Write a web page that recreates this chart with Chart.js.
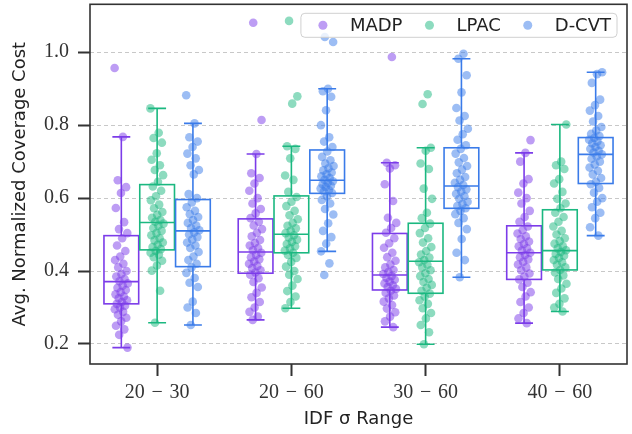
<!DOCTYPE html>
<html>
<head>
<meta charset="utf-8">
<script src="https://cdn.jsdelivr.net/npm/chart.js@4/dist/chart.umd.min.js"></script>
<style>
  html, body { margin: 0; padding: 0; background: #fff; }
</style>
</head>
<body>
<canvas id="chart" width="632" height="434"></canvas>
<script>
const ranges = ['20\u2004\u2212\u200430', '20\u2004\u2212\u200460', '30\u2004\u2212\u200460', '40\u2004\u2212\u200460'];
const methods = ['MADP', 'LPAC', 'D-CVT'];
const colors = ['#7c3ce9', '#1bb880', '#3a7be9'];
const yTicks = [0.2, 0.4, 0.6, 0.8, 1.0];

// per-run normalized costs, one inner array per sigma range
const madpCost = [
    [0.957, 0.768, 0.649, 0.630, 0.614, 0.573, 0.534, 0.515, 0.504, 0.49, 0.47, 0.455, 0.44, 0.43, 0.42, 0.41, 0.40, 0.392, 0.385, 0.378, 0.372, 0.366, 0.36, 0.354, 0.348, 0.342, 0.336, 0.33, 0.325, 0.32, 0.315, 0.31, 0.305, 0.30, 0.295, 0.288, 0.28, 0.272, 0.262, 0.25, 0.24, 0.225, 0.19],
    [1.081, 0.814, 0.721, 0.668, 0.655, 0.64, 0.62, 0.60, 0.585, 0.57, 0.558, 0.545, 0.535, 0.525, 0.515, 0.505, 0.495, 0.485, 0.477, 0.47, 0.463, 0.457, 0.45, 0.444, 0.438, 0.432, 0.426, 0.42, 0.414, 0.408, 0.402, 0.396, 0.39, 0.38, 0.37, 0.355, 0.34, 0.328, 0.315, 0.3, 0.288, 0.275, 0.266],
    [0.987, 0.697, 0.69, 0.681, 0.638, 0.592, 0.546, 0.532, 0.518, 0.505, 0.49, 0.476, 0.464, 0.45, 0.438, 0.428, 0.418, 0.41, 0.403, 0.397, 0.392, 0.386, 0.381, 0.376, 0.371, 0.366, 0.361, 0.356, 0.351, 0.346, 0.34, 0.333, 0.325, 0.316, 0.307, 0.297, 0.287, 0.275, 0.262, 0.246],
    [0.759, 0.724, 0.70, 0.652, 0.64, 0.615, 0.6, 0.585, 0.565, 0.548, 0.535, 0.522, 0.512, 0.503, 0.495, 0.488, 0.481, 0.474, 0.468, 0.462, 0.456, 0.45, 0.444, 0.438, 0.432, 0.425, 0.418, 0.41, 0.402, 0.393, 0.385, 0.377, 0.368, 0.356, 0.342, 0.33, 0.315, 0.3, 0.285, 0.27, 0.257]
];
const lpacCost = [
    [0.846, 0.779, 0.765, 0.752, 0.723, 0.705, 0.69, 0.677, 0.663, 0.645, 0.632, 0.62, 0.605, 0.594, 0.582, 0.572, 0.562, 0.554, 0.546, 0.54, 0.535, 0.53, 0.524, 0.518, 0.51, 0.504, 0.498, 0.49, 0.484, 0.478, 0.472, 0.466, 0.46, 0.455, 0.45, 0.445, 0.438, 0.428, 0.415, 0.401, 0.346, 0.258],
    [1.086, 0.879, 0.859, 0.742, 0.735, 0.709, 0.662, 0.65, 0.617, 0.603, 0.59, 0.578, 0.565, 0.553, 0.542, 0.532, 0.524, 0.517, 0.51, 0.504, 0.498, 0.492, 0.486, 0.48, 0.474, 0.468, 0.462, 0.456, 0.45, 0.444, 0.436, 0.425, 0.412, 0.4, 0.39, 0.378, 0.36, 0.345, 0.33, 0.315, 0.298],
    [0.885, 0.858, 0.738, 0.73, 0.695, 0.68, 0.626, 0.598, 0.56, 0.545, 0.53, 0.518, 0.504, 0.49, 0.478, 0.466, 0.455, 0.445, 0.437, 0.43, 0.424, 0.417, 0.41, 0.402, 0.394, 0.386, 0.378, 0.37, 0.362, 0.354, 0.346, 0.338, 0.33, 0.32, 0.31, 0.298, 0.285, 0.27, 0.252, 0.232, 0.199],
    [0.802, 0.7, 0.69, 0.68, 0.652, 0.64, 0.617, 0.598, 0.585, 0.572, 0.56, 0.548, 0.535, 0.522, 0.51, 0.5, 0.49, 0.482, 0.475, 0.468, 0.462, 0.457, 0.452, 0.447, 0.442, 0.436, 0.43, 0.424, 0.417, 0.41, 0.403, 0.396, 0.388, 0.378, 0.365, 0.352, 0.34, 0.325, 0.31, 0.3, 0.289]
];
const dcvtCost = [
    [0.882, 0.805, 0.767, 0.755, 0.74, 0.722, 0.709, 0.69, 0.677, 0.665, 0.611, 0.6, 0.588, 0.575, 0.565, 0.556, 0.548, 0.54, 0.532, 0.525, 0.518, 0.512, 0.506, 0.5, 0.493, 0.486, 0.478, 0.47, 0.463, 0.452, 0.44, 0.43, 0.42, 0.41, 0.395, 0.381, 0.368, 0.356, 0.316, 0.30, 0.285, 0.252],
    [1.042, 1.028, 0.9, 0.893, 0.878, 0.841, 0.8, 0.767, 0.755, 0.74, 0.728, 0.713, 0.704, 0.695, 0.688, 0.682, 0.676, 0.67, 0.665, 0.66, 0.655, 0.65, 0.646, 0.642, 0.638, 0.634, 0.63, 0.626, 0.622, 0.618, 0.614, 0.605, 0.595, 0.585, 0.57, 0.555, 0.531, 0.51, 0.493, 0.475, 0.454, 0.421, 0.389],
    [0.996, 0.982, 0.937, 0.89, 0.847, 0.825, 0.813, 0.79, 0.775, 0.76, 0.745, 0.735, 0.722, 0.71, 0.698, 0.688, 0.678, 0.668, 0.658, 0.65, 0.642, 0.636, 0.63, 0.624, 0.618, 0.612, 0.605, 0.598, 0.59, 0.584, 0.578, 0.572, 0.565, 0.556, 0.545, 0.532, 0.515, 0.488, 0.45, 0.43, 0.383],
    [0.945, 0.94, 0.916, 0.87, 0.855, 0.84, 0.825, 0.81, 0.795, 0.785, 0.776, 0.77, 0.765, 0.76, 0.755, 0.75, 0.745, 0.74, 0.735, 0.73, 0.725, 0.72, 0.714, 0.708, 0.7, 0.692, 0.684, 0.675, 0.665, 0.655, 0.645, 0.638, 0.628, 0.615, 0.6, 0.59, 0.575, 0.56, 0.545, 0.52, 0.497]
];

// box summaries: [lower whisker, q1, median, q3, upper whisker]
const madpBox = [
    [0.190, 0.310, 0.371, 0.497, 0.768],
    [0.266, 0.394, 0.452, 0.543, 0.721],
    [0.246, 0.348, 0.389, 0.503, 0.697],
    [0.257, 0.377, 0.450, 0.524, 0.724]
];
const lpacBox = [
    [0.258, 0.458, 0.533, 0.637, 0.846],
    [0.298, 0.450, 0.501, 0.606, 0.742],
    [0.199, 0.339, 0.427, 0.531, 0.738],
    [0.289, 0.403, 0.456, 0.568, 0.802]
];
const dcvtBox = [
    [0.252, 0.412, 0.510, 0.596, 0.805],
    [0.454, 0.613, 0.649, 0.732, 0.900],
    [0.383, 0.572, 0.633, 0.738, 0.982],
    [0.497, 0.640, 0.720, 0.766, 0.945]
];

const costs = [madpCost, lpacCost, dcvtCost];
const boxes = [madpBox, lpacBox, dcvtBox];
const hueWidth = 0.8 / methods.length;
const dodge = (m) => (m - (methods.length - 1) / 2) * hueWidth;
const jitter = (i) => (((i * 0.618034) % 1) - 0.5) * 0.1;

const fade = (hex, a) => {
    const n = parseInt(hex.slice(1), 16);
    return `rgba(${n >> 16}, ${(n >> 8) & 255}, ${n & 255}, ${a})`;
};

const sansFont = '"DejaVu Sans", sans-serif';
const serifFont = '"Liberation Serif", "DejaVu Serif", serif';

const boxPlugin = {
    id: 'boxes',
    beforeDatasetsDraw(chart) {
        const { ctx, scales: { x, y } } = chart;
        ctx.save();
        ctx.lineWidth = 1.6;
        boxes.forEach((stats, m) => {
            ctx.strokeStyle = colors[m];
            stats.forEach(([lo, q1, med, q3, hi], g) => {
                const c = g + dodge(m);
                const l = x.getPixelForValue(c - hueWidth / 2 + 0.004);
                const r = x.getPixelForValue(c + hueWidth / 2 - 0.004);
                const cx = x.getPixelForValue(c);
                const cl = x.getPixelForValue(c - hueWidth / 4);
                const cr = x.getPixelForValue(c + hueWidth / 4);
                ctx.strokeRect(l, y.getPixelForValue(q3), r - l, y.getPixelForValue(q1) - y.getPixelForValue(q3));
                ctx.beginPath();
                ctx.moveTo(l, y.getPixelForValue(med));
                ctx.lineTo(r, y.getPixelForValue(med));
                ctx.moveTo(cx, y.getPixelForValue(q3));
                ctx.lineTo(cx, y.getPixelForValue(hi));
                ctx.moveTo(cx, y.getPixelForValue(q1));
                ctx.lineTo(cx, y.getPixelForValue(lo));
                ctx.moveTo(cl, y.getPixelForValue(hi));
                ctx.lineTo(cr, y.getPixelForValue(hi));
                ctx.moveTo(cl, y.getPixelForValue(lo));
                ctx.lineTo(cr, y.getPixelForValue(lo));
                ctx.stroke();
            });
        });
        ctx.restore();
    }
};

const framePlugin = {
    id: 'frame',
    afterDatasetsDraw(chart) {
        const { ctx, chartArea: a } = chart;
        ctx.save();
        ctx.strokeStyle = '#333333';
        ctx.lineWidth = 1.6;
        ctx.strokeRect(a.left, a.top, a.right - a.left, a.bottom - a.top);
        ctx.restore();
    }
};

const legendPlugin = {
    id: 'cornerLegend',
    afterDraw(chart) {
        const { ctx, chartArea: a } = chart;
        ctx.save();
        ctx.font = '18px ' + sansFont;
        const widths = methods.map(t => ctx.measureText(t).width);
        const lead = 22, markGap = 27, itemGap = 27, tail = 6;
        const total = lead + widths.reduce((s, w) => s + w + markGap, 0) + itemGap * (methods.length - 1) + tail;
        const right = a.right - 10, top = a.top + 9, h = 24;
        const left = right - total;
        ctx.beginPath();
        ctx.roundRect(left, top, total, h, 4);
        ctx.fillStyle = 'rgba(255,255,255,0.8)';
        ctx.fill();
        ctx.strokeStyle = '#d0d0d0';
        ctx.lineWidth = 1;
        ctx.stroke();
        let px = left + lead;
        ctx.textBaseline = 'middle';
        methods.forEach((t, i) => {
            ctx.beginPath();
            ctx.arc(px, top + h / 2, 4.5, 0, Math.PI * 2);
            ctx.fillStyle = fade(colors[i], 0.5);
            ctx.fill();
            ctx.fillStyle = '#222222';
            ctx.fillText(t, px + markGap, top + h / 2 + 1);
            px += markGap + widths[i] + itemGap;
        });
        ctx.restore();
    }
};

const datasets = methods.map((name, m) => ({
    label: name,
    data: costs[m].flatMap((vals, g) => vals.map((v, i) => ({ x: g + dodge(m) + jitter(i + g * 7), y: v }))),
    backgroundColor: fade(colors[m], 0.5),
    borderWidth: 0,
    pointRadius: 4.3,
    pointHoverRadius: 4.3
}));

new Chart(document.getElementById('chart'), {
    type: 'scatter',
    data: { datasets },
    plugins: [boxPlugin, framePlugin, legendPlugin],
    options: {
        responsive: false,
        animation: false,
        events: [],
        layout: { padding: { top: 4, right: 5, left: 0, bottom: 0 } },
        plugins: {
            legend: { display: false },
            tooltip: { enabled: false }
        },
        scales: {
            x: {
                type: 'linear',
                min: -0.5,
                max: 3.5,
                afterBuildTicks: (s) => { s.ticks = ranges.map((_, i) => ({ value: i })); },
                afterFit: (s) => { s.height = 70; s.paddingLeft = 0; s.paddingRight = 0; },
                grid: { drawOnChartArea: false, tickLength: 12, tickColor: '#333333', tickWidth: 2 },
                border: { display: false },
                ticks: {
                    padding: 5,
                    color: '#333333',
                    font: { family: serifFont, size: 20 },
                    maxRotation: 0,
                    callback: (v) => ranges[v]
                },
                title: {
                    display: true,
                    text: 'IDF \u03c3 Range',
                    color: '#222222',
                    font: { family: sansFont, size: 18 },
                    padding: { top: 0, bottom: 4 }
                }
            },
            y: {
                min: 0.145,
                max: 1.1315,
                afterBuildTicks: (s) => { s.ticks = yTicks.map(v => ({ value: v })); },
                afterFit: (s) => { s.width = 90; s.paddingTop = 0; s.paddingBottom = 0; },
                grid: { color: '#c8c8c8', lineWidth: 1, tickLength: 12, tickColor: '#333333', tickWidth: 2 },
                border: { display: false, dash: [4, 3] },
                ticks: {
                    padding: 9,
                    color: '#333333',
                    font: { family: serifFont, size: 20 },
                    callback: (v) => v.toFixed(1)
                },
                title: {
                    display: true,
                    text: 'Avg. Normalized Coverage Cost',
                    color: '#222222',
                    font: { family: sansFont, size: 18 },
                    padding: { top: 10, bottom: 0 }
                }
            }
        }
    }
});
</script>
</body>
</html>
